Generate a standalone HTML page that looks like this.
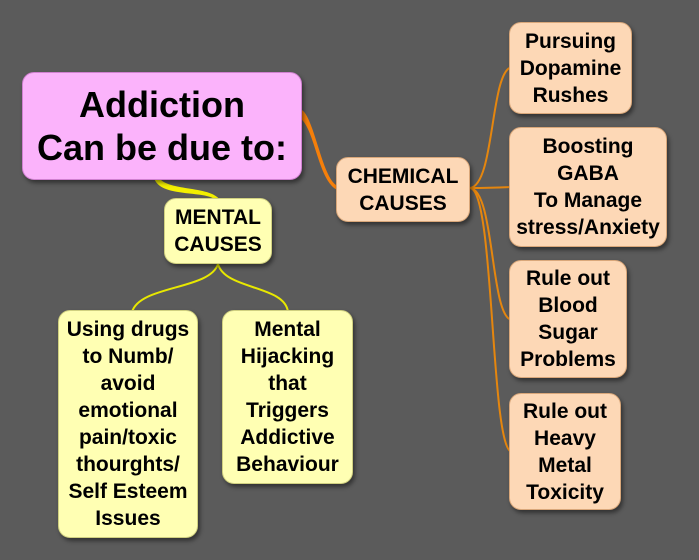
<!DOCTYPE html>
<html><head><style>
body{margin:0;width:699px;height:560px;background:#5b5b5b;position:relative;overflow:hidden;font-family:"Liberation Sans",sans-serif;font-weight:bold;}
.b{position:absolute;box-sizing:border-box;border-radius:12px;display:flex;align-items:center;justify-content:center;text-align:center;color:#000;box-shadow:2px 3px 4px rgba(0,0,0,.45);white-space:nowrap;}
.p{background:#fdd8b6;border:1px solid #d9a77a;font-size:21px;line-height:27px;}
.y{background:#ffffb3;border:1px solid #d0d080;font-size:21px;line-height:27px;}
</style></head><body>
<svg width="699" height="560" style="position:absolute;left:0;top:0">
<path d="M300,118 C316,130 318,185 340,191 L336,185 C322,176 314,118 302,110 Z" fill="#f57f0a"/>
<g fill="none" stroke="#e5860e" stroke-width="2">
<path d="M470,188 C495,185 490,70 512,67"/>
<path d="M470,188 C490,188 490,188 512,187"/>
<path d="M470,188 C495,190 490,318 512,320"/>
<path d="M470,188 C495,190 490,450 512,452"/>
</g>
<path d="M158,176 C165,192 210,185 220,200 L216,200 C205,190 160,198 154,178 Z" fill="#f4f000"/>
<g fill="none" stroke="#e8e800" stroke-width="2">
<path d="M218,264 C210,290 140,285 132,312"/>
<path d="M218,264 C225,290 285,285 288,312"/>
</g>
</svg>
<div class="b" style="left:22px;top:72px;width:280px;height:108px;background:#fbb3fb;border:1px solid #d080d0;font-size:36px;line-height:43px;">Addiction<br>Can be due to:</div>
<div class="b p" style="left:336px;top:157px;width:134px;height:65px;">CHEMICAL<br>CAUSES</div>
<div class="b y" style="left:164px;top:198px;width:108px;height:66px;">MENTAL<br>CAUSES</div>
<div class="b y" style="left:58px;top:310px;width:140px;height:228px;">Using drugs<br>to Numb/<br>avoid<br>emotional<br>pain/toxic<br>thourghts/<br>Self Esteem<br>Issues</div>
<div class="b y" style="left:222px;top:310px;width:131px;height:174px;">Mental<br>Hijacking<br>that<br>Triggers<br>Addictive<br>Behaviour</div>
<div class="b p" style="left:509px;top:22px;width:123px;height:92px;">Pursuing<br>Dopamine<br>Rushes</div>
<div class="b p" style="left:509px;top:127px;width:158px;height:120px;">Boosting<br>GABA<br>To Manage<br>stress/Anxiety</div>
<div class="b p" style="left:509px;top:260px;width:118px;height:118px;">Rule out<br>Blood<br>Sugar<br>Problems</div>
<div class="b p" style="left:509px;top:393px;width:112px;height:117px;">Rule out<br>Heavy<br>Metal<br>Toxicity</div>
</body></html>
